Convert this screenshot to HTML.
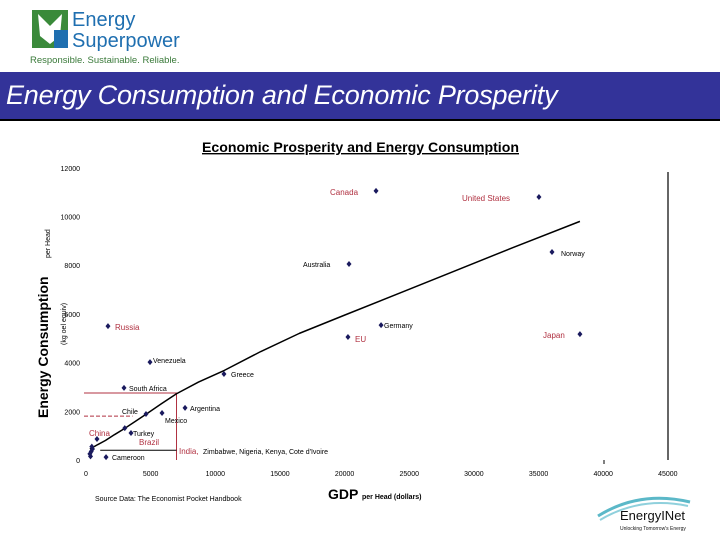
<!DOCTYPE html>
<html><head><meta charset="utf-8"><style>
body{margin:0;width:720px;height:540px;background:#fff;overflow:hidden;font-family:"Liberation Sans",sans-serif;position:relative}
#banner{position:absolute;left:0;top:72px;width:720px;height:47px;background:#333399;border-bottom:2px solid #000}
#banner span{position:absolute;left:6px;top:8px;color:#fff;font-style:italic;font-size:27px;letter-spacing:-0.2px}
</style></head><body>
<div style="position:absolute;left:30px;top:6px;width:180px;height:60px">
<svg width="180" height="60"><rect x="2" y="4" width="36" height="38" fill="#3a8a3a"/><polygon points="8,8 20,20 32,8 30,30 20,38 10,30" fill="#fff"/><rect x="24" y="24" width="14" height="18" fill="#1f6fb0"/>
<text x="42" y="20" font-size="20" fill="#1f6fb0" font-family="Liberation Sans">Energy</text>
<text x="42" y="41" font-size="20" fill="#1f6fb0" font-family="Liberation Sans">Superpower</text>
<text x="0" y="57" font-size="9.5" fill="#3a7a3a" font-family="Liberation Sans">Responsible. Sustainable. Reliable.</text></svg></div>
<div id="banner"><span>Energy Consumption and Economic Prosperity</span></div>
<svg id="chart" width="720" height="540" style="position:absolute;left:0;top:0" font-family="Liberation Sans">
<text x="202" y="152" font-size="14" font-weight="bold" text-decoration="underline" textLength="317" lengthAdjust="spacingAndGlyphs">Economic Prosperity and Energy Consumption</text>
<text transform="translate(48,418) rotate(-90)" font-size="14" font-weight="bold">Energy Consumption</text>
<text transform="translate(50,258) rotate(-90)" font-size="7">per Head</text>
<text transform="translate(66,345) rotate(-90)" font-size="7">(kg oel equiv)</text>
<text x="328" y="499" font-size="14" font-weight="bold">GDP</text>
<text x="362" y="499" font-size="7" font-weight="bold">per Head (dollars)</text>
<text x="95" y="501" font-size="7">Source Data: The Economist Pocket Handbook</text>
<line x1="668" y1="172" x2="668" y2="460" stroke="#000" stroke-width="1.2"/>
<line x1="604" y1="460" x2="604" y2="464" stroke="#000"/>
<g><path d="M598 516 Q640 490 690 502" stroke="#5bb8c8" stroke-width="3" fill="none"/><path d="M600 520 Q640 496 688 506" stroke="#8fd0dc" stroke-width="2" fill="none"/>
<text x="620" y="520" font-size="13" fill="#111">EnergyINet</text><text x="620" y="530" font-size="5" fill="#111">Unlocking Tomorrow's Energy</text></g>
<g id="plot"></g>
</svg>
<script>
const xTicks=[0,5000,10000,15000,20000,25000,30000,35000,40000,45000];
const yTicks=[0,2000,4000,6000,8000,10000,12000];
const countries=["Canada","United States","Norway","Australia","Germany","EU","Japan","Russia","Venezuela","Greece","South Africa","Argentina","Chile","Mexico","Turkey","Brazil","China","Cameroon","India","Zimbabwe","Nigeria","Kenya","Cote d'Ivoire"];
const gdp=[22430,35030,36040,20340,22820,20260,38200,1700,4950,10670,2940,7660,4640,5880,3480,3000,850,1550,450,350,400,500,300];
const energy=[11050,10800,8540,8050,5540,5050,5170,5500,4020,3530,2960,2140,1890,1930,1110,1310,860,120,550,150,350,450,250];
const trendX=[300,900,1500,2200,3000,3800,4700,5800,7000,8700,10700,13500,16500,20000,24000,28000,33000,38200];
const trendY=[450,630,800,1040,1300,1580,1900,2300,2720,3200,3680,4450,5200,5950,6800,7650,8720,9800];
const X=v=>86+v*0.01293, Y=v=>460-v*0.02435;
const NS="http://www.w3.org/2000/svg", g=document.getElementById('plot');
function mk(t,a,txt){const e=document.createElementNS(NS,t);for(const k in a)e.setAttribute(k,a[k]);if(txt!=null)e.textContent=txt;g.appendChild(e);return e;}
xTicks.forEach(v=>{const t=mk('text',{x:X(v),y:476,'font-size':7,'text-anchor':'middle'},v);

});
yTicks.forEach(v=>{const t=mk('text',{x:80,y:Y(v)+3,'font-size':7,'text-anchor':'end'},v);

});
const rl=mk('path',{d:`M84 ${Y(2750)} H${X(7000)} V460`,stroke:'#b03040',fill:'none','stroke-width':1});


const dl=mk('line',{x1:84,y1:Y(1800),x2:X(3600),y2:Y(1800),stroke:'#b03040','stroke-dasharray':'4,2'});


const ar=mk('line',{x1:X(7000),y1:Y(400),x2:X(1100),y2:Y(400),stroke:'#000'});


const tl=mk('polyline',{points:trendX.map((v,i)=>X(v)+','+Y(trendY[i])).join(' '),stroke:'#000',fill:'none','stroke-width':1.5,'stroke-linejoin':'round'});


gdp.forEach((v,i)=>{const cx=X(v),cy=Y(energy[i]);
const p=mk('polygon',{points:`${cx},${cy-3} ${cx+2.5},${cy} ${cx},${cy+3} ${cx-2.5},${cy}`,fill:'#1a1a5e'});

});
const labels=[["Canada",330,195,'#b03040',8],["United States",462,201,'#b03040',8],["Norway",561,256,'#000',7],["Australia",303,267,'#000',7],["Germany",384,328,'#000',7],["EU",355,342,'#b03040',8],["Japan",543,338,'#b03040',8],["Russia",115,330,'#b03040',8],["Venezuela",153,363,'#000',7],["Greece",231,377,'#000',7],["South Africa",129,391,'#000',7],["Argentina",190,411,'#000',7],["Chile",122,414,'#000',7],["Mexico",165,423,'#000',7],["Turkey",133,436,'#000',7],["Brazil",139,445,'#b03040',8],["China",89,436,'#b03040',8],["Cameroon",112,460,'#000',7],["India,",179,454,'#b03040',8],["Zimbabwe, Nigeria, Kenya, Cote d'Ivoire",203,454,'#000',7]];
labels.forEach(l=>{const t=mk('text',{x:l[1],y:l[2],fill:l[3],'font-size':l[4]},l[0]);

});
</script>
</body></html>
